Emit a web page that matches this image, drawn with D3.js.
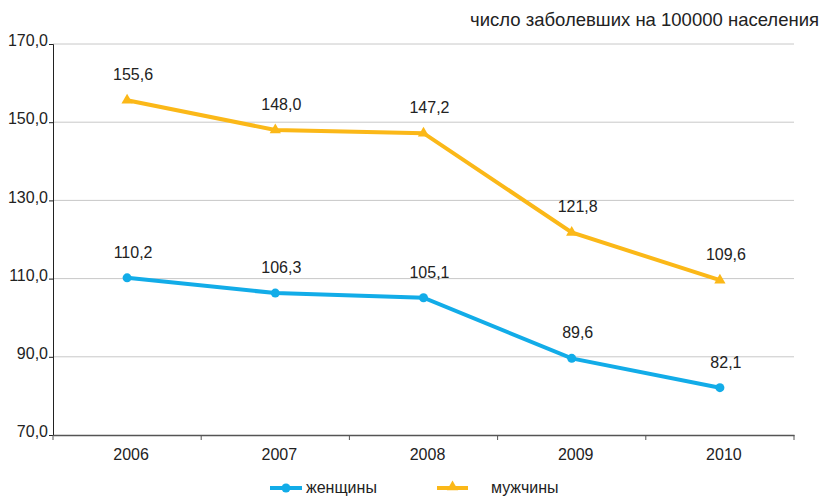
<!DOCTYPE html>
<html><head><meta charset="utf-8">
<script src="https://cdn.jsdelivr.net/npm/d3@7"></script>
<style>body{margin:0;background:#fff}svg{display:block}text{font-family:"Liberation Sans",Arial,sans-serif}</style>
</head><body><svg id="c" width="825" height="497"></svg>
<script>
const years = ["2006","2007","2008","2009","2010"];
const women = [110.2,106.3,105.1,89.6,82.1];
const men = [155.6,148.0,147.2,121.8,109.6];
const yTicks = [70,90,110,130,150,170];
const seriesNames = ["женщины","мужчины"];
const title = "число заболевших на 100000 населения";

const svg = d3.select("#c");
const mL=53, mR=794, mT=44, mB=435;
const x = d3.scaleBand().domain(years).range([mL,mR]);
const y = d3.scaleLinear().domain([70,170]).range([mB,mT]);
const fmt = v => v.toFixed(1).replace(".",",");

// grid
svg.append("g").selectAll("line").data(yTicks.slice(1)).join("line")
  .attr("x1",mL).attr("x2",mR).attr("y1",d=>y(d)).attr("y2",d=>y(d))
  .attr("stroke","#c8c8c8").attr("stroke-width",1);

// y axis
const ya = svg.append("g").attr("transform",`translate(${mL},0)`)
  .call(d3.axisLeft(y).tickValues(yTicks).tickFormat(fmt).tickSize(4).tickPadding(1));
ya.select(".domain").attr("stroke","#222");
ya.selectAll(".tick line").attr("stroke","#222");
ya.selectAll("text").attr("font-size",16).attr("fill","#222").attr("dy","0.1em");

// x axis
const xa = svg.append("g").attr("transform",`translate(0,${mB})`)
  .call(d3.axisBottom(x).tickSize(0).tickPadding(14));
xa.select(".domain").attr("stroke","#555").attr("stroke-width",1.5);
xa.selectAll("text").attr("font-size",16).attr("fill","#222").attr("dx","4");
const bounds = years.map(d=>x(d)).concat([mR]);
svg.append("g").selectAll("line").data(bounds).join("line")
  .attr("x1",d=>d).attr("x2",d=>d).attr("y1",mB).attr("y2",mB+5)
  .attr("stroke","#555");

const cx = d => x(d)+x.bandwidth()/2;
const series = [
  {name:seriesNames[0], vals:women, color:"#12ace8", marker:"circle"},
  {name:seriesNames[1], vals:men, color:"#fbb818", marker:"triangle"}
];
const line = d3.line().x((d,i)=>cx(years[i])).y(d=>y(d));
const tri = d3.symbol().type(d3.symbolTriangle).size(55);
series.forEach(s=>{
  svg.append("path").datum(s.vals).attr("d",line).attr("fill","none")
    .attr("stroke",s.color).attr("stroke-width",4);
  const g = svg.append("g");
  s.vals.forEach((v,i)=>{
    if(s.marker==="circle") g.append("circle").attr("cx",cx(years[i])).attr("cy",y(v)).attr("r",4.5).attr("fill",s.color);
    else g.append("path").attr("d",tri).attr("transform",`translate(${cx(years[i])},${y(v)})`).attr("fill",s.color);
    svg.append("text").attr("x",cx(years[i])+6).attr("y",y(v)-20).attr("text-anchor","middle")
      .attr("font-size",16).attr("fill","#222").text(fmt(v));
  });
});

svg.append("text").attr("x",819).attr("y",26).attr("text-anchor","end").attr("font-size",18.5).attr("fill","#222").text(title);

// legend
const leg = [{s:series[0],x1:270,x2:302,tx:306},{s:series[1],x1:437,x2:468,tx:491}];
leg.forEach(l=>{
  const ly=488;
  svg.append("line").attr("x1",l.x1).attr("x2",l.x2).attr("y1",ly).attr("y2",ly).attr("stroke",l.s.color).attr("stroke-width",4);
  const mx=(l.x1+l.x2)/2;
  if(l.s.marker==="circle") svg.append("circle").attr("cx",mx).attr("cy",ly).attr("r",4.5).attr("fill",l.s.color);
  else svg.append("path").attr("d",tri).attr("transform",`translate(${mx},${ly-1})`).attr("fill",l.s.color);
  svg.append("text").attr("x",l.tx).attr("y",ly+5).attr("font-size",16).attr("fill","#222").text(l.s.name);
});
</script></body></html>
